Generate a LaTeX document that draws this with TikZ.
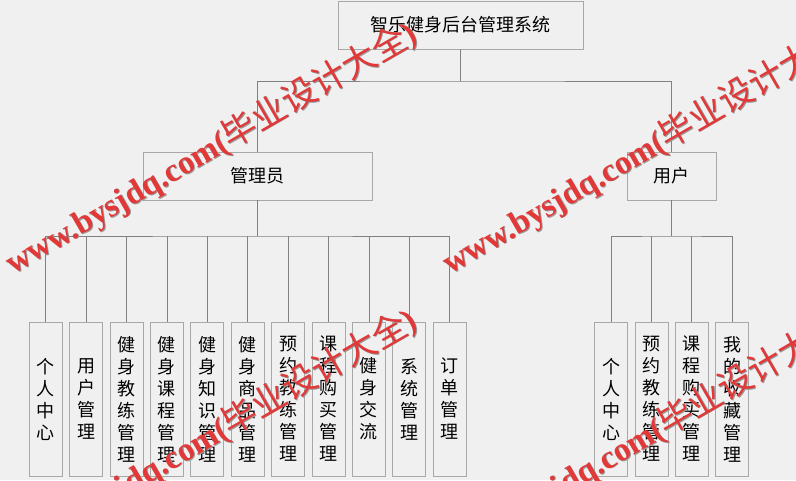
\documentclass[tikz,border=0pt]{standalone}
\usepackage{fontspec}
\setmainfont{Noto Sans CJK SC}
\newfontfamily\wmlatin{Liberation Serif}
\newfontfamily\wmcjk{Noto Sans CJK SC}
\definecolor{bg}{HTML}{F0F0F0}
\definecolor{boxline}{HTML}{A8A8A8}
\definecolor{conn}{HTML}{808080}
\definecolor{wmred}{RGB}{226,56,56}
\tikzset{
  box/.style={draw=boxline, fill=bg, line width=0.8pt, inner sep=0pt, font=\fontsize{18}{22}\selectfont},
  leaf/.style={box, minimum width=33pt, minimum height=154pt, align=center},
  link/.style={draw=conn, line width=0.8pt},
  wmtext/.style={rotate=30, anchor=base west, inner sep=0pt, text=wmred},
  wmshadow/.style={rotate=30, anchor=base west, inner sep=0pt, text=black!40}
}
\newcommand\wmstr{{\wmlatin\bfseries\fontsize{33}{33}\selectfont www.bysjdq.com(}{\wmcjk\fontsize{34.5}{34.5}\selectfont 毕业设计大全}{\wmlatin\bfseries\fontsize{33}{33}\selectfont )}}
\begin{document}
\begin{tikzpicture}[x=1pt,y=-1pt]
\useasboundingbox (0,0) rectangle (796,480);
\fill[bg] (0,0) rectangle (796,480);
% top levels
\node[box, minimum width=245pt, minimum height=48pt] (top) at (460.5,25) {智乐健身后台管理系统};
\node[box, minimum width=229pt, minimum height=48pt] (admin) at (257.5,176) {管理员};
\node[box, minimum width=89pt, minimum height=48pt] (user) at (671.5,176) {用户};
\coordinate (j1) at (460.5,81);
\draw[link] (top.south) -- (j1);
\draw[link] (admin.north) |- (j1) -| (user.north);
% admin leaves
\node[leaf] (a0) at (45.7,399) {个\\人\\中\\心};
\node[leaf] (a1) at (86.1,399) {用\\户\\管\\理};
\node[leaf] (a2) at (126.5,399) {健\\身\\教\\练\\管\\理};
\node[leaf] (a3) at (166.9,399) {健\\身\\课\\程\\管\\理};
\node[leaf] (a4) at (207.3,399) {健\\身\\知\\识\\管\\理};
\node[leaf] (a5) at (247.7,399) {健\\身\\商\\品\\管\\理};
\node[leaf] (a6) at (288.1,399) {预\\约\\教\\练\\管\\理};
\node[leaf] (a7) at (328.5,399) {课\\程\\购\\买\\管\\理};
\node[leaf] (a8) at (368.9,399) {健\\身\\交\\流};
\node[leaf] (a9) at (409.3,399) {系\\统\\管\\理};
\node[leaf] (a10) at (449.7,399) {订\\单\\管\\理};
\coordinate (b1) at (257.5,236);
\draw[link] (admin.south) -- (b1);
\draw[link] (a0.north) |- (b1) -| (a10.north);
\foreach \i in {1,...,9} { \draw[link] (a\i.north) -- (a\i.north |- b1); }
% user leaves
\node[leaf] (u0) at (611,399) {个\\人\\中\\心};
\node[leaf] (u1) at (651.4,399) {预\\约\\教\\练\\管\\理};
\node[leaf] (u2) at (691.8,399) {课\\程\\购\\买\\管\\理};
\node[leaf] (u3) at (732.2,399) {我\\的\\收\\藏\\管\\理};
\coordinate (b2) at (671.5,236);
\draw[link] (user.south) -- (b2);
\draw[link] (u0.north) |- (b2) -| (u3.north);
\foreach \i in {1,2} { \draw[link] (u\i.north) -- (u\i.north |- b2); }
% watermarks
\begin{scope}
\clip (0,0) rectangle (796,480);
\foreach \dx/\dy [count=\k] in {0/0, 437/0, 0/287, 436/287} {
  \node[wmshadow] (ws\k) at (14+\dx,275.8+\dy) {\wmstr};
  \node[wmtext] (wm\k) at (13+\dx,275+\dy) {\wmstr};
}
\end{scope}
\end{tikzpicture}
\end{document}
